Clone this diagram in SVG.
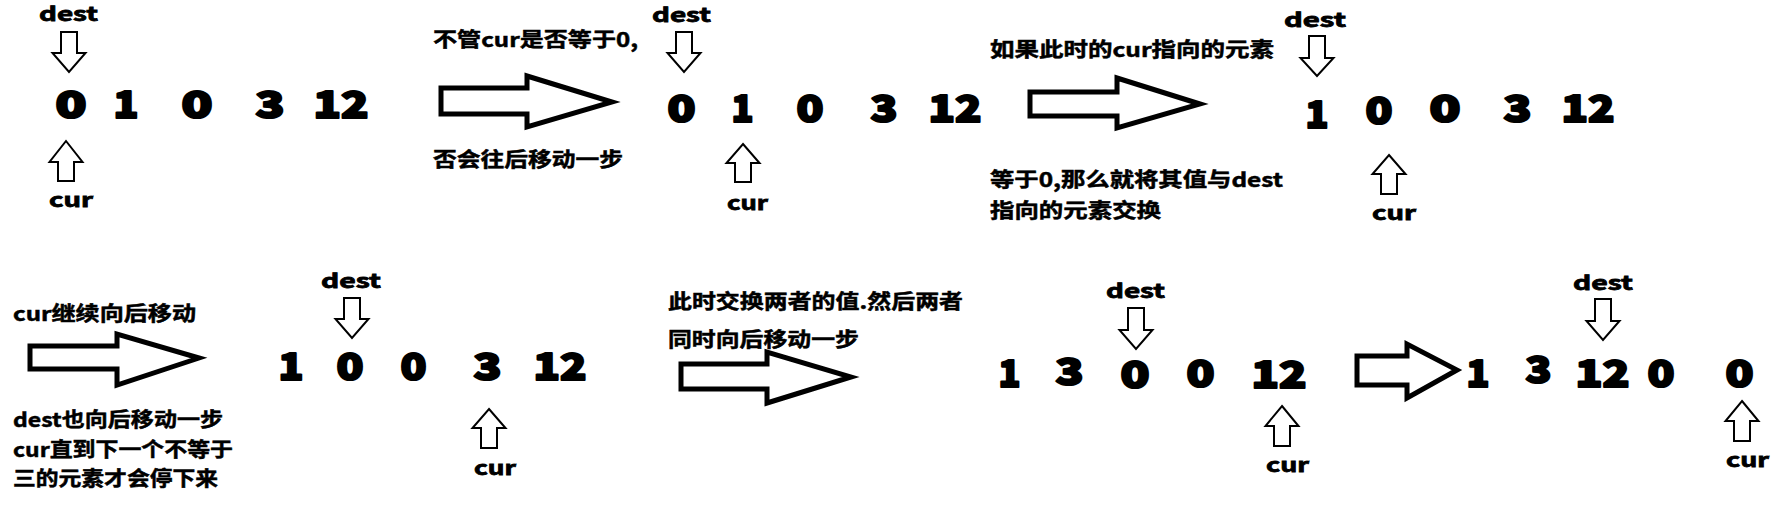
<svg xmlns="http://www.w3.org/2000/svg" width="1775" height="513" viewBox="0 0 1775 513">
<style>
text{font-family:"Noto Sans CJK SC","Noto Sans",sans-serif;font-weight:700;fill:#000}
.cn{font-size:20px;stroke:#000;stroke-width:0.5}
.num{font-size:37px;font-weight:900;stroke:#000;stroke-width:2.2;stroke-linejoin:round}
.lbl{font-size:20px;stroke:#000;stroke-width:0.8}
.big{fill:#fff;stroke:#000;stroke-width:5;stroke-linejoin:miter}
.ptr{fill:#fff;stroke:#000;stroke-width:2}
</style>
<rect width="1775" height="513" fill="#fff"/>
<g id="connectors">
<polygon class="big" points="441,88 527,88 527,76 612,102 527,127 527,114 441,114"/>
<polygon class="big" points="1030,92 1117,92 1117,78 1200,104 1117,128 1117,116 1030,116"/>
<polygon class="big" points="30,346 117,346 117,334 199,358 117,385 117,369 30,369"/>
<polygon class="big" points="681,364 767,364 767,352 851,377 767,403 767,389 681,389"/>
<polygon class="big" points="1357,356 1407,356 1407,344 1457,370 1407,398 1407,385 1357,385"/>
</g>
<g id="notes">
<text class="cn" x="433" y="47" textLength="205" lengthAdjust="spacingAndGlyphs">不管cur是否等于0,</text>
<text class="cn" x="433" y="167" textLength="190" lengthAdjust="spacingAndGlyphs">否会往后移动一步</text>
<text class="cn" x="990" y="57" textLength="284" lengthAdjust="spacingAndGlyphs">如果此时的cur指向的元素</text>
<text class="cn" x="990" y="187" textLength="293" lengthAdjust="spacingAndGlyphs">等于0,那么就将其值与dest</text>
<text class="cn" x="990" y="218" textLength="171" lengthAdjust="spacingAndGlyphs">指向的元素交换</text>
<text class="cn" x="13" y="321" textLength="183" lengthAdjust="spacingAndGlyphs">cur继续向后移动</text>
<text class="cn" x="13" y="427" textLength="210" lengthAdjust="spacingAndGlyphs">dest也向后移动一步</text>
<text class="cn" x="13" y="457" textLength="220" lengthAdjust="spacingAndGlyphs">cur直到下一个不等于</text>
<text class="cn" x="13" y="486" textLength="205" lengthAdjust="spacingAndGlyphs">三的元素才会停下来</text>
<text class="cn" x="668" y="309" textLength="295" lengthAdjust="spacingAndGlyphs">此时交换两者的值.然后两者</text>
<text class="cn" x="668" y="347" textLength="191" lengthAdjust="spacingAndGlyphs">同时向后移动一步</text>
</g>
<g id="state1">
<text class="lbl" x="39" y="21" textLength="59" lengthAdjust="spacingAndGlyphs">dest</text>
<polygon class="ptr" points="61,32 77,32 77,53 85.5,53 69,72 52.5,53 61,53"/>
<text class="num" x="55.5" y="118" textLength="31" lengthAdjust="spacingAndGlyphs">0</text>
<text class="num" x="113.5" y="118" textLength="25" lengthAdjust="spacingAndGlyphs">1</text>
<text class="num" x="181.5" y="118" textLength="31" lengthAdjust="spacingAndGlyphs">0</text>
<text class="num" x="255.5" y="118" textLength="29" lengthAdjust="spacingAndGlyphs">3</text>
<text class="num" x="313.5" y="118" textLength="55" lengthAdjust="spacingAndGlyphs">12</text>
<polygon class="ptr" points="66,141 82.5,162 74,162 74,181 58,181 58,162 49.5,162"/>
<text class="lbl" x="49" y="207" textLength="44" lengthAdjust="spacingAndGlyphs">cur</text>
</g>
<g id="state2">
<text class="lbl" x="652" y="22" textLength="59" lengthAdjust="spacingAndGlyphs">dest</text>
<polygon class="ptr" points="676,32 692,32 692,53 700.5,53 684,72 667.5,53 676,53"/>
<text class="num" x="667.5" y="122" textLength="28" lengthAdjust="spacingAndGlyphs">0</text>
<text class="num" x="731.5" y="122" textLength="22" lengthAdjust="spacingAndGlyphs">1</text>
<text class="num" x="796.5" y="122" textLength="27" lengthAdjust="spacingAndGlyphs">0</text>
<text class="num" x="870.5" y="122" textLength="27" lengthAdjust="spacingAndGlyphs">3</text>
<text class="num" x="928.5" y="122" textLength="53" lengthAdjust="spacingAndGlyphs">12</text>
<polygon class="ptr" points="743,144 759.5,163 751,163 751,182 735,182 735,163 726.5,163"/>
<text class="lbl" x="727" y="210" textLength="41" lengthAdjust="spacingAndGlyphs">cur</text>
</g>
<g id="state3">
<text class="lbl" x="1284" y="27" textLength="62" lengthAdjust="spacingAndGlyphs">dest</text>
<polygon class="ptr" points="1309,36 1325,36 1325,58 1333.5,58 1317,76 1300.5,58 1309,58"/>
<text class="num" x="1305.5" y="128" textLength="23" lengthAdjust="spacingAndGlyphs">1</text>
<text class="num" x="1365.5" y="124" textLength="27" lengthAdjust="spacingAndGlyphs">0</text>
<text class="num" x="1429.5" y="122" textLength="31" lengthAdjust="spacingAndGlyphs">0</text>
<text class="num" x="1503.5" y="122" textLength="28" lengthAdjust="spacingAndGlyphs">3</text>
<text class="num" x="1561.5" y="122" textLength="53" lengthAdjust="spacingAndGlyphs">12</text>
<polygon class="ptr" points="1389,155 1405.5,174 1397,174 1397,194 1381,194 1381,174 1372.5,174"/>
<text class="lbl" x="1372" y="220" textLength="44" lengthAdjust="spacingAndGlyphs">cur</text>
</g>
<g id="state4">
<text class="lbl" x="321" y="288" textLength="60" lengthAdjust="spacingAndGlyphs">dest</text>
<polygon class="ptr" points="344,298 360,298 360,319 368.5,319 352,338 335.5,319 344,319"/>
<text class="num" x="278.5" y="380" textLength="25" lengthAdjust="spacingAndGlyphs">1</text>
<text class="num" x="336.5" y="380" textLength="27" lengthAdjust="spacingAndGlyphs">0</text>
<text class="num" x="400.5" y="380" textLength="26" lengthAdjust="spacingAndGlyphs">0</text>
<text class="num" x="473.5" y="380" textLength="28" lengthAdjust="spacingAndGlyphs">3</text>
<text class="num" x="533.5" y="380" textLength="53" lengthAdjust="spacingAndGlyphs">12</text>
<polygon class="ptr" points="489,409 505.5,428 497,428 497,448 481,448 481,428 472.5,428"/>
<text class="lbl" x="474" y="475" textLength="42" lengthAdjust="spacingAndGlyphs">cur</text>
</g>
<g id="state5">
<text class="lbl" x="1106" y="298" textLength="59" lengthAdjust="spacingAndGlyphs">dest</text>
<polygon class="ptr" points="1128,308 1144,308 1144,330 1152.5,330 1136,349 1119.5,330 1128,330"/>
<text class="num" x="998.5" y="387" textLength="22" lengthAdjust="spacingAndGlyphs">1</text>
<text class="num" x="1055.5" y="385" textLength="28" lengthAdjust="spacingAndGlyphs">3</text>
<text class="num" x="1120.5" y="388" textLength="29" lengthAdjust="spacingAndGlyphs">0</text>
<text class="num" x="1186.5" y="387" textLength="28" lengthAdjust="spacingAndGlyphs">0</text>
<text class="num" x="1251.5" y="388" textLength="55" lengthAdjust="spacingAndGlyphs">12</text>
<polygon class="ptr" points="1282,406 1298.5,426 1290,426 1290,446 1274,446 1274,426 1265.5,426"/>
<text class="lbl" x="1266" y="472" textLength="43" lengthAdjust="spacingAndGlyphs">cur</text>
</g>
<g id="state6">
<text class="lbl" x="1573" y="290" textLength="60" lengthAdjust="spacingAndGlyphs">dest</text>
<polygon class="ptr" points="1595,299 1611,299 1611,321 1619.5,321 1603,340 1586.5,321 1595,321"/>
<text class="num" x="1466.5" y="387" textLength="23" lengthAdjust="spacingAndGlyphs">1</text>
<text class="num" x="1525.5" y="383" textLength="26" lengthAdjust="spacingAndGlyphs">3</text>
<text class="num" x="1575.5" y="387" textLength="54" lengthAdjust="spacingAndGlyphs">12</text>
<text class="num" x="1647.5" y="387" textLength="27" lengthAdjust="spacingAndGlyphs">0</text>
<text class="num" x="1725.5" y="387" textLength="28" lengthAdjust="spacingAndGlyphs">0</text>
<polygon class="ptr" points="1742,401 1758.5,421 1750,421 1750,441 1734,441 1734,421 1725.5,421"/>
<text class="lbl" x="1726" y="467" textLength="43" lengthAdjust="spacingAndGlyphs">cur</text>
</g>
</svg>
